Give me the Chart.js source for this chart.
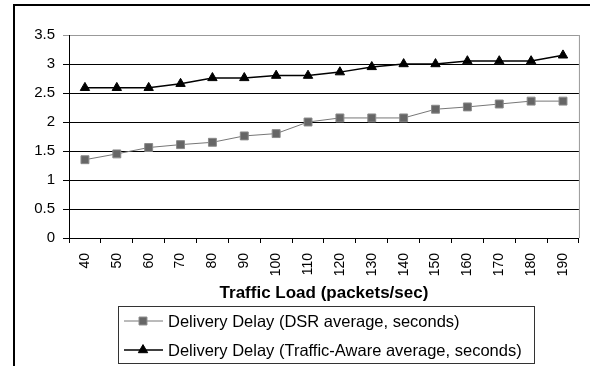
<!DOCTYPE html>
<html>
<head>
<meta charset="utf-8">
<script src="https://cdn.jsdelivr.net/npm/chart.js@4"></script>
<style>
  html, body { margin: 0; padding: 0; background: #fff; }
  #c { display: block; }
</style>
</head>
<body>
<canvas id="c" width="590" height="366"></canvas>
<script>
// traffic load categories (packets/sec)
var loads = ['40', '50', '60', '70', '80', '90', '100', '110', '120', '130', '140', '150', '160', '170', '180', '190']
// delivery delay, seconds
var dsrDelay = [1.35, 1.45, 1.56, 1.61, 1.65, 1.76, 1.80, 2.00, 2.07, 2.07, 2.07, 2.22, 2.26, 2.31, 2.36, 2.36]
var awareDelay = [2.59, 2.59, 2.59, 2.66, 2.76, 2.76, 2.80, 2.80, 2.86, 2.95, 3.00, 3.00, 3.05, 3.05, 3.05, 3.15]
var yTicks = [0, 0.5, 1, 1.5, 2, 2.5, 3, 3.5]

var FONT = "'Liberation Sans', Arial, sans-serif"

// outer frame + grey right edge of plot
const frame = {
  id: 'frame',
  beforeDraw(chart) {
    const ctx = chart.ctx
    ctx.save()
    ctx.fillStyle = '#fff'
    ctx.fillRect(0, 0, chart.width, chart.height)
    ctx.strokeStyle = '#000'
    ctx.lineWidth = 2
    ctx.strokeRect(14, 5, chart.width + 10, chart.height + 10)
    ctx.restore()
  },
  afterDatasetsDraw(chart) {
    const a = chart.chartArea
    const ctx = chart.ctx
    ctx.save()
    ctx.strokeStyle = '#999'
    ctx.lineWidth = 1
    ctx.beginPath()
    ctx.moveTo(a.right + 0.5, a.top)
    ctx.lineTo(a.right + 0.5, a.bottom)
    ctx.stroke()
    ctx.restore()
  }
}

// boxed legend with line + marker samples
const boxLegend = {
  id: 'boxLegend',
  afterDraw(chart) {
    const ctx = chart.ctx
    ctx.save()
    ctx.strokeStyle = '#333'
    ctx.lineWidth = 1
    ctx.strokeRect(118.5, 306.5, 416, 57)
    const rows = [321, 350]
    chart.data.datasets.forEach(function(ds, i) {
      const y = rows[i]
      ctx.strokeStyle = ds.borderColor
      ctx.lineWidth = ds.borderWidth
      ctx.beginPath()
      ctx.moveTo(124, y)
      ctx.lineTo(163, y)
      ctx.stroke()
      ctx.fillStyle = ds.pointBackgroundColor
      ctx.strokeStyle = ds.pointBorderColor
      ctx.lineWidth = 1
      Chart.helpers.drawPoint(ctx, { pointStyle: ds.pointStyle, radius: ds.pointRadius, borderWidth: 1, rotation: 0 }, 143, y)
      ctx.fillStyle = '#000'
      ctx.font = '16.5px ' + FONT
      ctx.textBaseline = 'middle'
      ctx.textAlign = 'left'
      ctx.fillText(ds.label, 168, y + 1)
    })
    ctx.restore()
  }
}

const config = {
  type: 'line',
  data: {
    labels: loads,
    datasets: [{
      label: 'Delivery Delay (DSR average, seconds)',
      data: dsrDelay,
      borderColor: '#777',
      borderWidth: 1,
      pointStyle: 'rect',
      pointRadius: 5.6,
      pointBackgroundColor: '#666',
      pointBorderColor: '#8a8a8a',
      pointBorderWidth: 1,
      tension: 0
    }, {
      label: 'Delivery Delay (Traffic-Aware average, seconds)',
      data: awareDelay,
      borderColor: '#000',
      borderWidth: 1.5,
      pointStyle: 'triangle',
      pointRadius: 5.4,
      pointBackgroundColor: '#000',
      pointBorderColor: '#000',
      pointBorderWidth: 1,
      tension: 0
    }]
  },
  options: {
    responsive: false,
    animation: false,
    devicePixelRatio: 1,
    layout: { padding: { left: 15, top: 35, right: 5, bottom: 58 } },
    plugins: {
      legend: { display: false },
      tooltip: { enabled: false }
    },
    scales: {
      x: {
        offset: true,
        grid: { offset: true, drawOnChartArea: false, drawTicks: true, tickLength: 5, color: '#000' },
        border: { color: '#000', width: 1 },
        ticks: { color: '#000', font: { family: FONT, size: 14 }, minRotation: 90, maxRotation: 90, padding: 10 },
        title: { display: true, text: 'Traffic Load (packets/sec)', color: '#000', font: { family: FONT, size: 17, weight: 'bold' }, padding: { top: 2, bottom: 4 } },
        afterFit: function(s) { s.height = 70 }
      },
      y: {
        min: 0,
        max: 3.5,
        afterBuildTicks: function(s) { s.ticks = yTicks.map(function(v) { return { value: v } }) },
        grid: {
          color: function(c) { return c.tick && c.tick.value === 3.5 ? '#999' : '#000' },
          tickLength: 6
        },
        border: { color: '#000', width: 1 },
        ticks: { color: '#000', font: { family: FONT, size: 15 }, padding: 8, callback: function(v) { return String(v) } },
        afterFit: function(s) { s.width = 54 }
      }
    }
  },
  plugins: [frame, boxLegend]
}

new Chart(document.getElementById('c'), config)
</script>
</body>
</html>
